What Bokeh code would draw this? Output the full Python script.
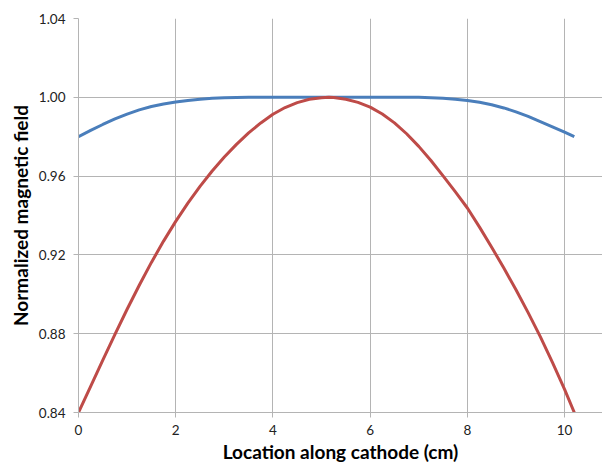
from bokeh.plotting import figure
from bokeh.models import Range1d, FixedTicker, NumeralTickFormatter
from bokeh.embed import file_html
from bokeh.resources import INLINE

# Location along cathode (cm)
x_blue = [0.0, 0.25, 0.5, 0.75, 1.0, 1.25, 1.5, 1.75, 2.0, 2.25, 2.5, 2.75, 3.0, 3.5, 4.0, 5.0,
          6.0, 7.0, 7.25, 7.5, 7.75, 8.0, 8.25, 8.5, 8.75, 9.0, 9.25, 9.5, 9.75, 10.0, 10.2]
blue = [0.980, 0.9832, 0.9862, 0.9890, 0.9915, 0.9936, 0.9953, 0.9966, 0.9976, 0.9984, 0.9990, 0.9995, 0.9998, 1.0, 1.0, 1.0,
        1.0, 1.0, 0.9998, 0.9995, 0.9990, 0.9984, 0.9975, 0.9962, 0.9946, 0.9926, 0.9903, 0.9877, 0.9850, 0.9823, 0.980]

x_red = [0.0, 0.25, 0.5, 0.75, 1.0, 1.25, 1.5, 1.75, 2.0, 2.25, 2.5, 2.75, 3.0, 3.25, 3.5, 3.75, 4.0, 4.25, 4.5, 4.75,
         5.0, 5.15, 5.25, 5.5, 5.75, 6.0, 6.25, 6.5, 6.75, 7.0, 7.25, 7.5, 7.75, 8.0, 8.25, 8.5, 8.75, 9.0, 9.25, 9.5,
         9.75, 10.0, 10.2]
red = [0.840, 0.8533, 0.8666, 0.8797, 0.8924, 0.9046, 0.9162, 0.9270, 0.9370, 0.9463, 0.9548, 0.9626, 0.9697, 0.9761,
       0.9819, 0.9870, 0.9914, 0.9948, 0.9973, 0.9990, 0.9998, 1.0, 0.9999, 0.9990, 0.9974, 0.9950, 0.9915, 0.9870,
       0.9815, 0.9751, 0.9679, 0.9601, 0.9521, 0.9438, 0.9341, 0.9239, 0.9133, 0.9023, 0.8907, 0.8785, 0.8654, 0.8517,
       0.840]

x_ticks = [0, 2, 4, 6, 8, 10]
y_ticks = [0.84, 0.88, 0.92, 0.96, 1.00, 1.04]

GRID = "#b4b4b4"
FONT = "Lato"

p = figure(width=602, height=467, output_backend="svg", toolbar_location=None,
           x_range=Range1d(0, 10.78), y_range=Range1d(0.84, 1.04),
           min_border_left=78, min_border_right=0, min_border_top=18, min_border_bottom=55)
p.outline_line_color = None
p.background_fill_color = "white"
p.border_fill_color = "white"

p.line(x_blue, blue, line_color="#4a7ebb", line_width=3, line_join="round")
p.line(x_red, red, line_color="#be4b48", line_width=3, line_join="round")

p.xaxis.ticker = FixedTicker(ticks=x_ticks)
p.yaxis.ticker = FixedTicker(ticks=y_ticks)
p.yaxis.formatter = NumeralTickFormatter(format="0.00")

for ax in (p.xaxis[0], p.yaxis[0]):
    ax.axis_line_color = GRID
    ax.major_tick_line_color = GRID
    ax.major_tick_out = 5
    ax.major_tick_in = 0
    ax.minor_tick_line_color = None
    ax.major_label_text_font = FONT
    ax.major_label_text_font_size = "13.5px"
    ax.major_label_text_color = "#222222"
    ax.axis_label_text_font = FONT
    ax.axis_label_text_font_size = "19px"
    ax.axis_label_text_font_style = "bold"
    ax.axis_label_text_color = "#000000"

p.xaxis.axis_label = "Location along cathode (cm)"
p.yaxis.axis_label = "Normalized magnetic field"
p.xaxis.major_label_standoff = 7
p.yaxis.major_label_standoff = 8
p.xaxis.axis_label_standoff = 2
p.yaxis.axis_label_standoff = 4

p.xgrid.grid_line_color = GRID
p.ygrid.grid_line_color = GRID
p.xgrid.ticker = FixedTicker(ticks=x_ticks)
p.ygrid.ticker = FixedTicker(ticks=y_ticks)

open("out.html", "w").write(file_html(p, INLINE))
